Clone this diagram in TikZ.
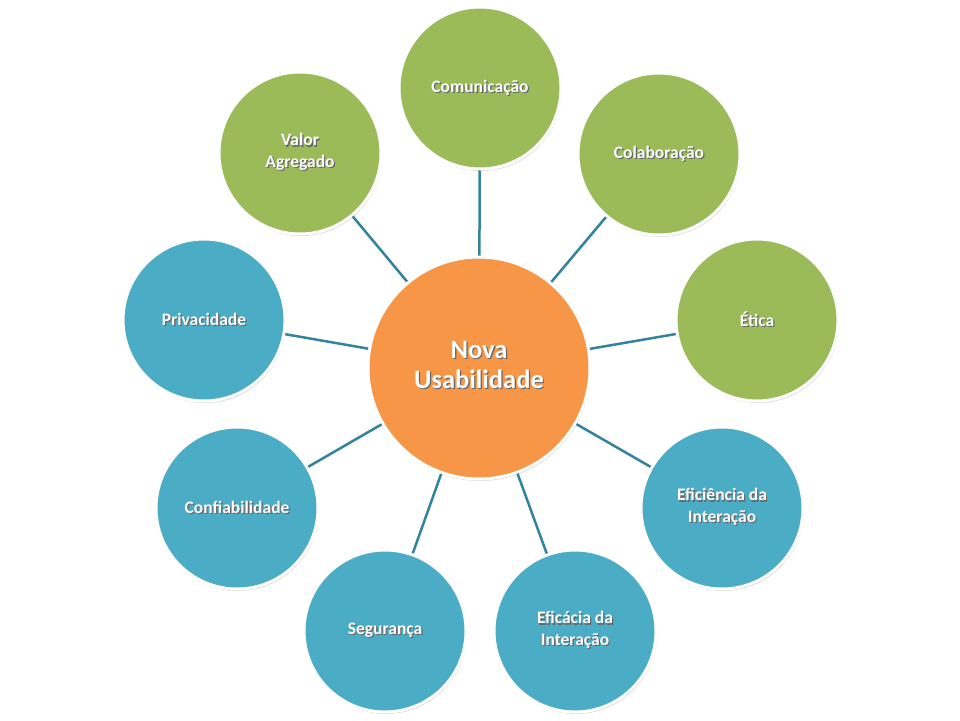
\documentclass[tikz,border=0pt]{standalone}
\usepackage{fontspec}
\setmainfont{Carlito}
\usetikzlibrary{shadows}
\definecolor{cgreen}{HTML}{9BBB59}
\definecolor{cblue}{HTML}{4BACC6}
\definecolor{corange}{HTML}{F79646}
\definecolor{cline}{HTML}{31849B}
\newcommand\shtxt[1]{\leavevmode\rlap{\kern1.2pt\raisebox{-1.2pt}{\color{black!60}#1}}#1}
\newcommand\twoline[2]{\shtxt{\begin{tabular}{@{}c@{}}#1\\#2\end{tabular}}}
\begin{document}
\begin{tikzpicture}[x=1pt,y=-1pt,
  outer/.style={circle, minimum size=162pt, inner sep=0pt, draw=white, line width=3pt,
    drop shadow={shadow xshift=1pt, shadow yshift=-2pt, fill=black!30, opacity=0.5},
    text=white, font=\bfseries\fontsize{17.5}{21.5}\selectfont, align=center},
  greenc/.style={outer, fill=cgreen},
  bluec/.style={outer, fill=cblue},
  hub/.style={circle, minimum size=222pt, inner sep=0pt, draw=white, line width=3pt, fill=corange,
    drop shadow={shadow xshift=1pt, shadow yshift=-2pt, fill=black!30, opacity=0.5},
    text=white, font=\bfseries\fontsize{26.5}{29.5}\selectfont, align=center},
  conn/.style={draw=cline, line width=2.5pt}]
\useasboundingbox (0,0) rectangle (960,720);
\fill[white] (0,0) rectangle (960,720);
\node[hub] (c) at (479,368) {\twoline{Nova}{Usabilidade}};
\node[greenc] (com) at (480,88) {\shtxt{Comunicação}};
\node[greenc] (col) at (659,154) {\shtxt{Colaboração}};
\node[greenc] (eti) at (757,320) {\shtxt{Ética}};
\node[bluec] (efi) at (722,508) {\twoline{Eficiência da}{Interação}};
\node[bluec] (efc) at (575,631) {\twoline{Eficácia da}{Interação}};
\node[bluec] (seg) at (385,631) {\shtxt{Segurança}};
\node[bluec] (con) at (237,508) {\shtxt{Confiabilidade}};
\node[bluec] (pri) at (204,320) {\shtxt{Privacidade}};
\node[greenc] (val) at (300,153) {\twoline{Valor}{Agregado}};
\foreach \n in {com,col,eti,efi,efc,seg,con,pri,val}
  \draw[conn] (c) -- (\n);
\end{tikzpicture}
\end{document}
